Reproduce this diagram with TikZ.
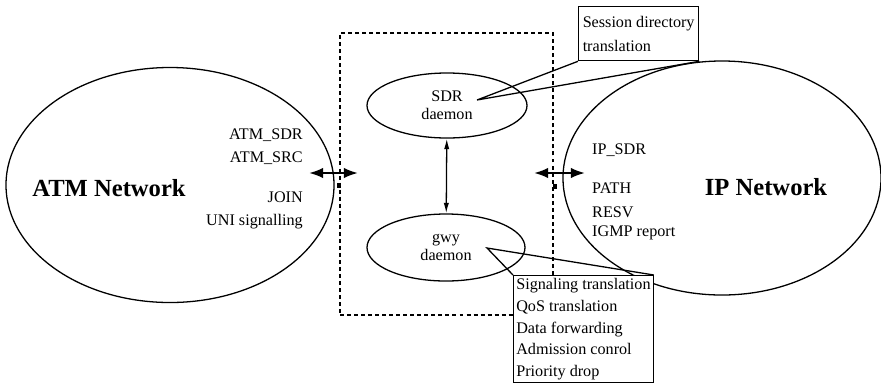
\documentclass[tikz,border=0pt]{standalone}
\usepackage{fontspec}
\setmainfont{Liberation Serif}
\usetikzlibrary{shapes.geometric, arrows.meta}

\begin{document}
\begin{tikzpicture}[x=0.03cm, y=-0.03cm,
    lbl/.style={font=\fontsize{13.8}{16}\selectfont, inner sep=0pt},
    big/.style={font=\fontsize{21}{25}\selectfont\bfseries, inner sep=0pt},
    net/.style={draw, ellipse, line width=1.1pt},
    dmn/.style={draw, ellipse, line width=1.1pt, align=center, inner sep=0pt, font=\fontsize{13.8}{15.3}\selectfont},
    notebox/.style={draw, fill=white, line width=1.1pt, align=left, inner xsep=0.08cm, inner ysep=0pt, anchor=north west},
    link/.style={{Latex[length=12pt,width=9pt]}-{Latex[length=12pt,width=9pt]}, line width=2pt},
    sync/.style={{Latex[length=9pt,width=4.5pt]}-{Latex[length=9pt,width=4.5pt]}, line width=1.1pt}]
    \useasboundingbox (0,0) rectangle (881,383);

    % the two networks
    \node[net, minimum width=9.84cm, minimum height=7.05cm] (atm) at (170,185) {};
    \node[net, minimum width=9.54cm, minimum height=7.02cm] (ip) at (722,178) {};
    \node[big] (atmname) at (109,188) {ATM Network};
    \node[big] (ipname) at (766,187) {IP Network};

    % gateway
    \node[draw, dashed, dash pattern=on 3.4pt off 2.6pt, line width=1.2pt, minimum width=6.39cm, minimum height=8.46cm] (gw) at (446.5,174) {};
    \node[dmn, minimum width=4.8cm, minimum height=1.95cm] (sdr) at (447,105.5) {SDR\\daemon};
    \node[dmn, minimum width=4.74cm, minimum height=2.01cm] (gwy) at (446,247.5) {gwy\\daemon};
    \draw[sync] (sdr) -- (gwy);

    % messages on each side
    \node[lbl, anchor=east] (asdr) at (303,135) {ATM\_SDR};
    \node[lbl, anchor=east] (asrc) at (303,158) {ATM\_SRC};
    \node[lbl, anchor=east] (join) at (303,197) {JOIN};
    \node[lbl, anchor=east] (uni) at (303,222) {UNI signalling};
    \node[lbl, anchor=west] (ipsdr) at (592,150) {IP\_SDR};
    \node[lbl, anchor=west] (path) at (592,188) {PATH};
    \node[lbl, anchor=west] (resv) at (592,212) {RESV};
    \node[lbl, anchor=west] (igmp) at (592,233) {IGMP report};

    \coordinate (al) at (309,173);
    \coordinate (ar) at (358,173);
    \coordinate (bl) at (534,173);
    \coordinate (br) at (585,173);
    \draw[link] (al) -- (ar);
    \draw[link] (bl) -- (br);
    \fill (337,183) rectangle (341,188);
    \fill (553,184) rectangle (557,189);

    % callouts
    \node[notebox, minimum width=3.6cm, minimum height=1.62cm, font=\fontsize{13.8}{20.4}\selectfont] (sdbox) at (578,6) {Session directory\\translation};
    \node[notebox, minimum width=4.17cm, minimum height=3.21cm, font=\fontsize{13.8}{18.5}\selectfont] (fnbox) at (513,275) {Signaling translation\\QoS translation\\Data forwarding\\Admission conrol\\Priority drop};
    \coordinate (sdtip) at (477,100);
    \coordinate (gwtip) at (487,248);
    \draw[line width=1.1pt] (sdbox.south west) -- (sdtip) -- (sdbox.south east);
    \draw[line width=1.1pt] (fnbox.north west) -- (gwtip) -- (fnbox.north east);
\end{tikzpicture}
\end{document}
